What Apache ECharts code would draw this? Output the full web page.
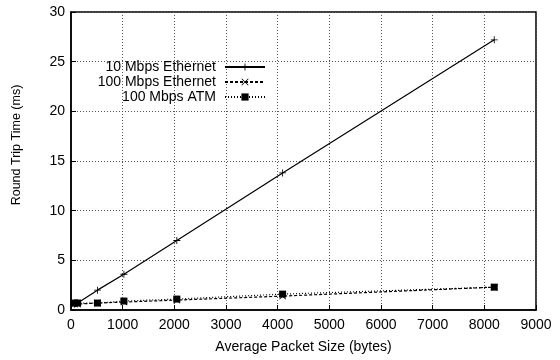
<!DOCTYPE html>
<html>
<head>
<meta charset="utf-8">
<script src="https://cdn.jsdelivr.net/npm/echarts@6/dist/echarts.min.js"></script>
<style>html,body{margin:0;padding:0;background:#fff;}#c{width:560px;height:360px;}</style>
</head>
<body>
<div id="c"></div>
<script>
var packetSizes = [64, 128, 512, 1024, 2048, 4096, 8192];
var eth10 = [0.6, 0.7, 2.0, 3.6, 7.0, 13.8, 27.2];
var eth100 = [0.6, 0.6, 0.7, 0.8, 1.0, 1.4, 2.3];
var atm100 = [0.7, 0.7, 0.7, 0.9, 1.1, 1.6, 2.3];
var seriesNames = ['10 Mbps Ethernet', '100 Mbps Ethernet', '100 Mbps ATM'];
var xTicks = [0, 1000, 2000, 3000, 4000, 5000, 6000, 7000, 8000, 9000];
var yTicks = [0, 5, 10, 15, 20, 25, 30];

function pairs(xs, ys) { return xs.map(function (x, i) { return [x, ys[i]]; }); }

var plusPath = 'path://M0,4.4H10V5.6H0Z M4.4,0H5.6V10H4.4Z';
var crossPath = 'path://M0.8,0L5,4.2L9.2,0L10,0.8L5.8,5L10,9.2L9.2,10L5,5.8L0.8,10L0,9.2L4.2,5L0,0.8Z';
var font = 'Liberation Sans';

var chart = echarts.init(document.getElementById('c'), null, {renderer: 'canvas'});
chart.setOption({
  animation: false,
  backgroundColor: '#fff',
  textStyle: {fontFamily: font},
  grid: {left: 71, right: 24, top: 12, bottom: 50, show: true, borderColor: '#000', borderWidth: 1.5, backgroundColor: 'transparent'},
  legend: {
    orient: 'vertical', align: 'right', right: 289, top: 55,
    itemWidth: 40, itemHeight: 9, itemGap: 1,
    textStyle: {fontFamily: font, fontSize: 14, color: '#000', padding: [0, 4, 0, 0]},
    data: seriesNames
  },
  xAxis: {
    type: 'value', min: xTicks[0], max: xTicks[xTicks.length - 1], interval: 1000,
    name: 'Average Packet Size (bytes)', nameLocation: 'middle', nameGap: 30,
    nameTextStyle: {fontFamily: font, fontSize: 14, color: '#000'},
    axisLine: {show: true, lineStyle: {color: '#000', width: 1.5}},
    axisTick: {show: true, inside: true, length: 5, lineStyle: {color: '#000'}},
    axisLabel: {fontFamily: font, fontSize: 14, color: '#000', margin: 8,
      formatter: function (v) { return String(v); }},
    splitLine: {show: true, lineStyle: {color: '#555', type: [1, 2], width: 1}}
  },
  yAxis: {
    type: 'value', min: yTicks[0], max: yTicks[yTicks.length - 1], interval: 5,
    name: 'Round Trip Time (ms)', nameLocation: 'middle', nameGap: 48, nameRotate: 90,
    nameTextStyle: {fontFamily: font, fontSize: 12.5, color: '#000', padding: [0, 0, 0, 32]},
    axisLine: {show: true, lineStyle: {color: '#000', width: 1.5}},
    axisTick: {show: true, inside: true, length: 5, lineStyle: {color: '#000'}},
    axisLabel: {fontFamily: font, fontSize: 14, color: '#000', margin: 6},
    splitLine: {show: true, lineStyle: {color: '#555', type: [1, 2], width: 1}}
  },
  series: [
    {name: seriesNames[0], type: 'line', data: pairs(packetSizes, eth10), symbol: plusPath, symbolSize: 7,
     itemStyle: {color: '#000'}, lineStyle: {color: '#000', width: 1.2, type: 'solid'}},
    {name: seriesNames[1], type: 'line', data: pairs(packetSizes, eth100), symbol: crossPath, symbolSize: 7,
     itemStyle: {color: '#000'}, lineStyle: {color: '#000', width: 1.2, type: [3, 2]}},
    {name: seriesNames[2], type: 'line', data: pairs(packetSizes, atm100), symbol: 'rect', symbolSize: 7,
     itemStyle: {color: '#000'}, lineStyle: {color: '#000', width: 1.2, type: [1, 2]}}
  ]
});
</script>
</body>
</html>
